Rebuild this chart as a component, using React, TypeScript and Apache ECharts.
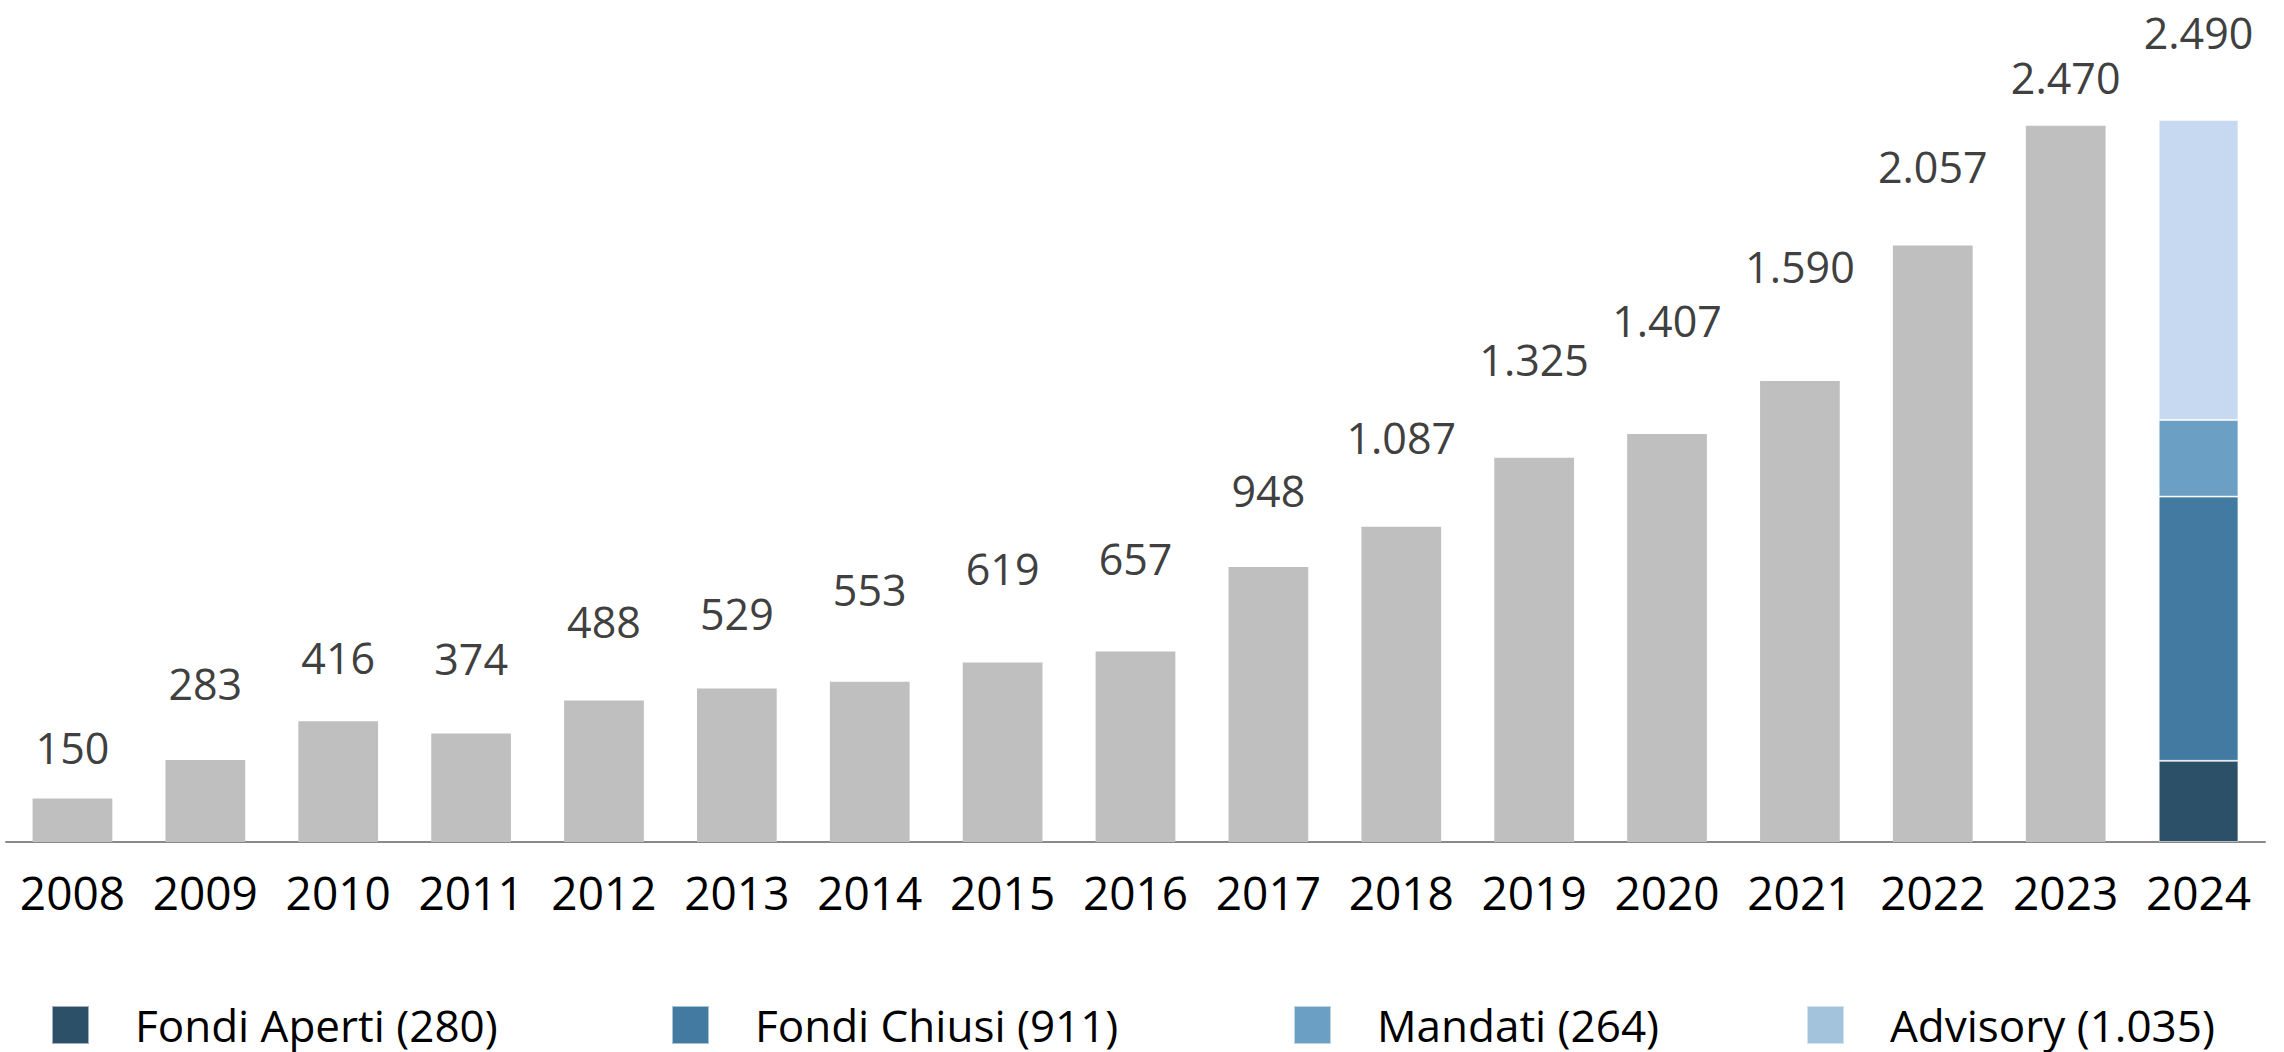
import React, { useEffect, useRef } from "react";
import * as echarts from "echarts";

const years = ["2008","2009","2010","2011","2012","2013","2014","2015","2016","2017","2018","2019","2020","2021","2022","2023","2024"];
const totals = [150, 283, 416, 374, 488, 529, 553, 619, 657, 948, 1087, 1325, 1407, 1590, 2057, 2470];
const breakdownNames = ["Fondi Aperti", "Fondi Chiusi", "Mandati", "Advisory"];
const breakdown2024 = [280, 911, 264, 1035];

// styling (label lift above each bar, px) — not data
const labelLift = [32, 57, 44, 56, 59, 56, 73, 74, 73, 57, 70, 79, 94, 95, 59, 29, 68];
const segColors = ["#2D5069", "#437AA1", "#6C9FC4", "#C6D9F1"];
const legendColors = ["#2D5069", "#437AA1", "#6C9FC4", "#A3C2DB"];
const legendLefts = [51, 671, 1293, 1806];

const fmt = (n: number) => String(n).replace(/\B(?=(\d{3})+(?!\d))/g, ".");

export default function App() {
  const ref = useRef<HTMLDivElement>(null);
  useEffect(() => {
    document.body.style.margin = "0";
    const chart = echarts.init(ref.current!, null, { renderer: "svg" });
    const labelBase = {
      show: true,
      position: "top",
      fontFamily: "Open Sans",
      fontSize: 43,
      color: "#404040",
    };
    const total2024 = breakdown2024.reduce((a, b) => a + b, 0);
    const graySeries = {
      type: "bar",
      name: "Totale",
      stack: "s",
      barCategoryGap: "40%",
      itemStyle: { color: "#BFBFBF" },
      data: years.map((_, i) =>
        i < totals.length
          ? { value: totals[i], label: { ...labelBase, distance: labelLift[i] - 2, formatter: () => fmt(totals[i]) } }
          : "-"
      ),
    };
    const segSeries = breakdownNames.map((name, k) => ({
      type: "bar",
      name,
      stack: "s",
      barCategoryGap: "40%",
      itemStyle: { color: segColors[k], borderColor: "rgba(255,255,255,0.55)", borderWidth: 1 },
      data: years.map((_, i) =>
        i === years.length - 1
          ? k === breakdownNames.length - 1
            ? { value: breakdown2024[k], label: { ...labelBase, distance: labelLift[i] - 2, formatter: () => fmt(total2024) } }
            : breakdown2024[k]
          : "-"
      ),
    }));
    const legends = breakdownNames.map((name, k) => ({
      left: legendLefts[k],
      top: 1003,
      padding: 0,
      orient: "horizontal",
      icon: "rect",
      itemWidth: 37,
      itemHeight: 38,
      selectedMode: false,
      data: [{ name, itemStyle: { color: legendColors[k] } }],
      formatter: (n: string) => `${n} (${fmt(breakdown2024[k])})`,
      textStyle: { fontFamily: "Open Sans", fontSize: 44, lineHeight: 38, color: "#000", padding: [0, 0, 0, 41] },
    }));
    chart.setOption({
      animation: false,
      grid: { left: 6, right: 19, top: 30, bottom: 210, containLabel: false },
      legend: legends,
      xAxis: {
        type: "category",
        data: years,
        axisLine: { lineStyle: { color: "#898989", width: 2 } },
        axisTick: { show: false },
        axisLabel: { fontFamily: "Open Sans", fontSize: 46, color: "#000", margin: 27, interval: 0 },
      },
      yAxis: {
        type: "value",
        min: 0,
        max: 2800,
        show: false,
        splitLine: { show: false },
      },
      series: [graySeries, ...segSeries],
    });
    return () => chart.dispose();
  }, []);
  return <div ref={ref} style={{ width: 2284, height: 1052 }} />;
}
